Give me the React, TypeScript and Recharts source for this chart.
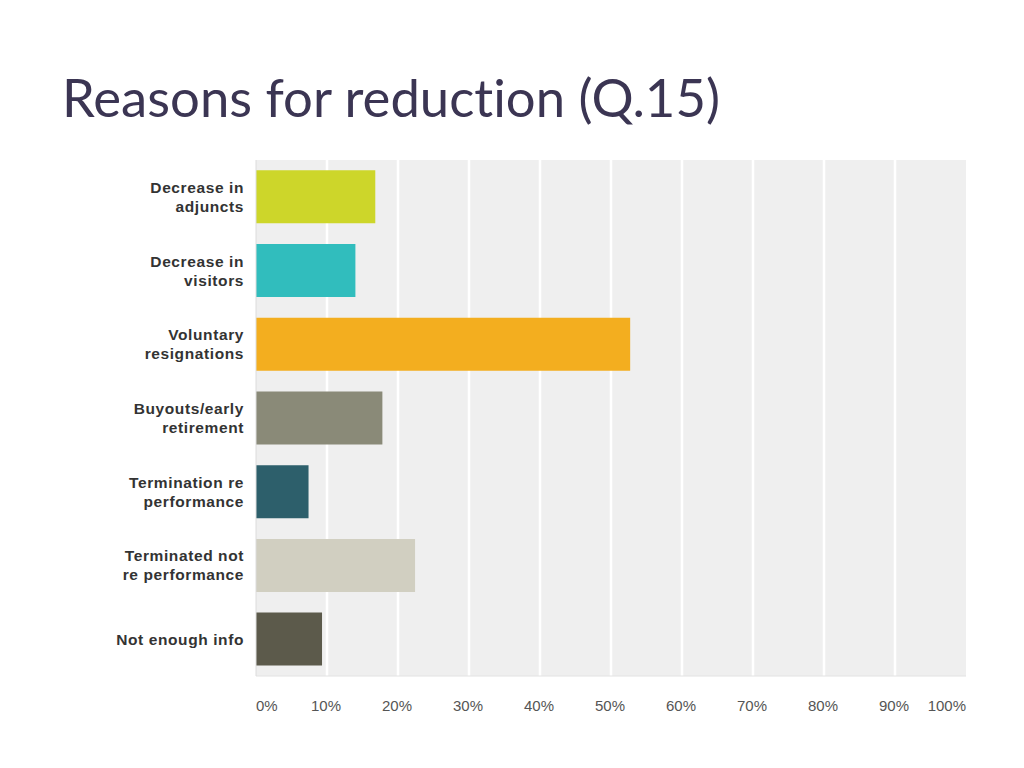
import React from "react";
import { BarChart, Bar, XAxis, YAxis, CartesianGrid, Cell } from "recharts";

const categories = [
  "Decrease in\nadjuncts",
  "Decrease in\nvisitors",
  "Voluntary\nresignations",
  "Buyouts/early\nretirement",
  "Termination re\nperformance",
  "Terminated not\nre performance",
  "Not enough info",
];
const values = [16.8, 14.0, 52.7, 17.8, 7.4, 22.4, 9.3];
const colors = ["#cdd62a", "#31bdbd", "#f3ae1f", "#8a8a78", "#2d5f6b", "#d1cfc1", "#5c5a4b"];
const xTicks = [0, 10, 20, 30, 40, 50, 60, 70, 80, 90, 100];
const title = "Reasons for reduction (Q.15)";

const data = categories.map((c, i) => ({ name: c, value: values[i] }));

const YTick = (props: any) => {
  const { x, y, payload } = props;
  const lines = String(payload.value).split("\n");
  const lh = 19;
  const start = y - ((lines.length - 1) * lh) / 2 + 5.5;
  return (
    <text
      textAnchor="end"
      fontFamily="'Liberation Sans', Arial, sans-serif"
      fontWeight="bold"
      fontSize={15.5}
      letterSpacing={0.6}
      fill="#333333"
    >
      {lines.map((l, i) => (
        <tspan key={i} x={x} y={start + i * lh}>
          {l}
        </tspan>
      ))}
    </text>
  );
};

const XTick = (props: any) => {
  const { x, y, payload } = props;
  const v = payload.value;
  const anchor = v === 0 ? "start" : v === 100 ? "end" : "middle";
  const dx = v === 0 ? 0 : v === 100 ? 0 : -1;
  return (
    <text
      x={x + dx}
      y={y}
      dy={19}
      textAnchor={anchor}
      fontFamily="'Liberation Sans', Arial, sans-serif"
      fontSize={15}
      fill="#555555"
    >
      {v + "%"}
    </text>
  );
};

export default function App() {
  return (
    <div style={{ position: "absolute", left: 0, top: 0, width: 1024, height: 768, background: "#fff" }}>
      <svg width={1024} height={140} style={{ position: "absolute", left: 0, top: 0 }}>
        <text
          x={62}
          y={117}
          fontFamily="Lato, 'Open Sans', sans-serif"
          fontSize={53}
          fill="#3b3553"
          textLength={658}
          lengthAdjust="spacingAndGlyphs"
          style={{ fontVariantLigatures: "none" }}
        >
          {title}
        </text>
      </svg>
      <div style={{ position: "absolute", left: 0, top: 0 }}>
        <BarChart
          width={1024}
          height={768}
          data={data}
          layout="vertical"
          margin={{ top: 160, right: 58, bottom: 52, left: 0 }}
          barCategoryGap="14%"
        >
          <CartesianGrid
            horizontal={false}
            vertical={true}
            fill="#efefef"
            stroke="#ffffff"
            strokeWidth={2.5}
            verticalCoordinatesGenerator={(p: any) =>
              xTicks.slice(1, 10).map((t) => p.offset.left + (t / 100) * p.offset.width)
            }
          />
          <XAxis
            type="number"
            domain={[0, 100]}
            ticks={xTicks}
            height={40}
            tickSize={0}
            tickMargin={16}
            tick={<XTick />}
            axisLine={{ stroke: "#e2e2e2" }}
            interval={0}
          />
          <YAxis
            type="category"
            dataKey="name"
            width={256}
            tickSize={0}
            tickMargin={12}
            tick={<YTick />}
            axisLine={{ stroke: "#dcdcdc" }}
            interval={0}
          />
          <Bar dataKey="value" isAnimationActive={false}>
            {data.map((d, i) => (
              <Cell key={i} fill={colors[i]} />
            ))}
          </Bar>
        </BarChart>
      </div>
    </div>
  );
}
